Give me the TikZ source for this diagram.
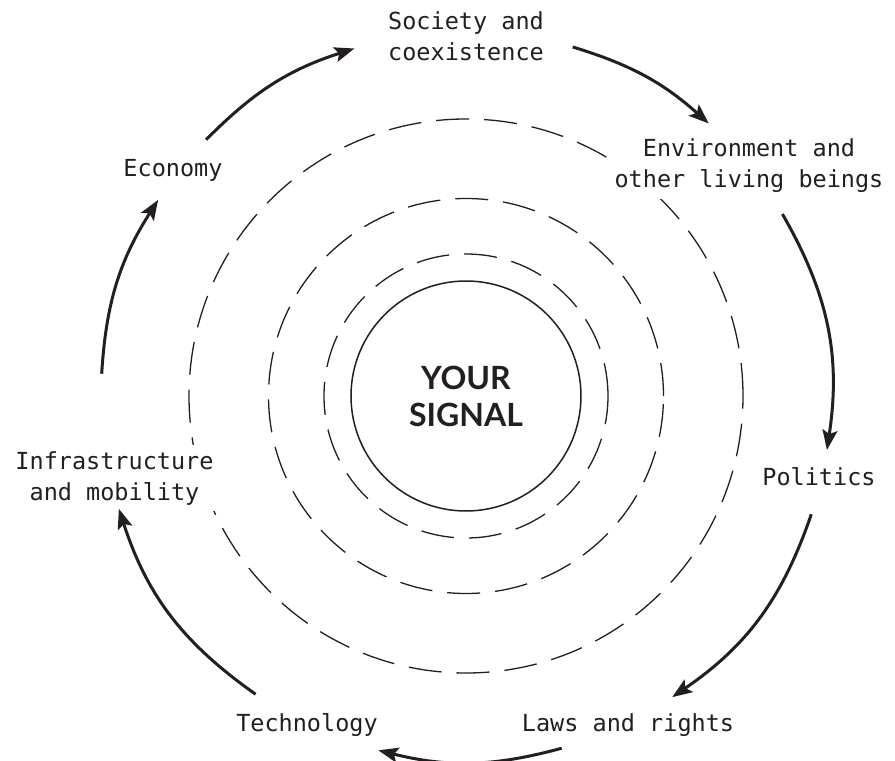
\documentclass[tikz,border=0pt]{standalone}
\usepackage{fontspec}
\setmonofont{DejaVu Sans Mono}
\newfontfamily\signalfont{Lato}
\usepackage{tikz}
\usetikzlibrary{arrows.meta}
\definecolor{ink}{HTML}{231F20}

\begin{document}
\begin{tikzpicture}[
x=1pt, y=1pt, color=ink,
    L/.style = {font=\fontsize{23.5}{31}\ttfamily, align=center,% labels round the rings
                anchor=base, inner sep=6pt, fill=white},
    A/.style = {line width=3pt, -{Stealth[length=20pt,width=15pt,inset=4pt]}},
    R/.style = {line width=1.3pt, dash pattern=on 33pt off 15pt},
                        ]
\useasboundingbox (-466,-365) rectangle (429,396);
\draw[line width=1.5pt] (0,0) circle[radius=115];
\foreach \r in {142,197.5,277}% <-- dashed rings
    \draw[R] (0,0) circle[radius=\r];
\node[font=\fontsize{32}{37.7}\signalfont\bfseries, align=center, anchor=base, inner sep=0pt] (signal) at (0,-30.7) {YOUR\\SIGNAL};
\node[L] (society) at (0,335) {Society and\\coexistence};
\node[L] (environment) at (283,208) {Environment and\\other living beings};
\node[L] (politics) at (353,-89) {Politics};
\node[L] (laws) at (162,-335.7) {Laws and rights};
\node[L] (technology) at (-159,-335.7) {Technology};
\node[L] (infrastructure) at (-351.5,-104) {Infrastructure\\and mobility};
\node[L] (economy) at (-293,219.3) {Economy};
\foreach \n/\a/\b in {1/135.4/107.8, 2/73/48.3, 3/29.9/-8.5, 4/-18.9/-55.6,
                      5/-74.8/-103.9, 6/-125.2/-162, 7/176.5/147.5}{% <-- arcs on r=365
    \coordinate (s\n) at (\a:365);
    \coordinate (t\n) at (\b:365);
    \pgfmathsetmacro\bend{(\a-\b)/2}
    \draw[A] (s\n) to[bend left=\bend] (t\n);
}
\end{tikzpicture}
\end{document}
